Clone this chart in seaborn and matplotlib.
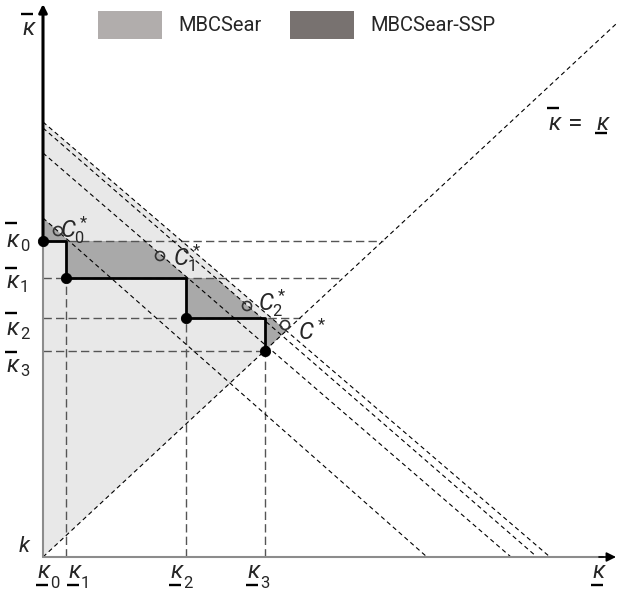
import matplotlib.pyplot as plt
import seaborn as sns
from matplotlib.patches import Patch, Polygon

sns.set_theme(style='white')
plt.rcParams['font.family'] = ['Roboto', 'DejaVu Sans']
plt.rcParams['mathtext.fontset'] = 'custom'
plt.rcParams['mathtext.rm'] = 'Roboto'
plt.rcParams['mathtext.it'] = 'Roboto:italic'
plt.rcParams['mathtext.bf'] = 'Roboto:bold'

# staircase corners: lower bounds (x) and upper bounds (y)
kappa_low = [0, 23, 143, 222]
kappa_high = [316, 279, 239, 206]
# budget lines, outer -> inner: x- and y-intercepts
budget_x = [507, 494, 468, 384]
budget_y = [435, 429, 404, 339]
# the kappa_bar = kappa_low line
diag_x = [0, 573]
diag_y = [0, 533]
# optimum points
opt_names = [r'$C_0^*$', r'$C_1^*$', r'$C_2^*$', r'$C^*$']
opt_x = [15, 117, 204, 242]
opt_y = [326, 301, 251, 232]

light = '#e8e8e8'
dark = '#a9a9a9'
guide = '#555555'


def x_on(i, y):
    return budget_x[i] * (1 - y / budget_y[i])


m = diag_y[1] / diag_x[1]
tip_x = budget_y[0] / (m + budget_y[0] / budget_x[0])
tip = (tip_x, m * tip_x)

lo, hi = kappa_low, kappa_high

fig = plt.figure(figsize=(6.18, 5.95), dpi=100)
ax = fig.add_axes([0, 0, 1, 1])
ax.set_xlim(-43, 575)
ax.set_ylim(-38, 557)
ax.axis('off')

# shaded regions
ax.add_patch(Polygon([(0, 0), (0, budget_y[0]), tip], closed=True,
                     facecolor=light, edgecolor='none', zorder=1))
dark_pts = [(0, budget_y[3]), (x_on(3, hi[0]), hi[0]),
            (x_on(2, hi[0]), hi[0]), (x_on(2, hi[1]), hi[1]),
            (x_on(1, hi[1]), hi[1]), (x_on(1, hi[2]), hi[2]),
            (x_on(0, hi[2]), hi[2]), tip,
            (lo[3], hi[3]), (lo[3], hi[2]), (lo[2], hi[2]), (lo[2], hi[1]),
            (lo[1], hi[1]), (lo[1], hi[0]), (0, hi[0])]
ax.add_patch(Polygon(dark_pts, closed=True, facecolor=dark,
                     edgecolor='none', zorder=2))

# guide lines
for i, h in enumerate(hi):
    end = h / m if i < 3 else lo[3]
    ax.plot([0, end], [h, h], color=guide, lw=1, ls=(0, (6, 3)), zorder=3)
for i in range(1, 4):
    ax.plot([lo[i], lo[i]], [0, hi[i]], color=guide, lw=1,
            ls=(0, (6, 3)), zorder=3)

# budget lines and diagonal
for a, b in zip(budget_x, budget_y):
    ax.plot([0, a], [b, 0], color='black', lw=0.8, ls=(0, (4, 3)), zorder=3)
ax.plot(diag_x, diag_y, color='black', lw=0.8, ls=(0, (4, 3)), zorder=3)

# axes
ax.plot([0, 0], [0, hi[0]], color='#8c8c8c', lw=1.5, zorder=4)
ax.plot([0, 560], [0, 0], color='#8c8c8c', lw=1.5, zorder=4)
ax.annotate('', xy=(573, 0), xytext=(556, 0),
            arrowprops=dict(arrowstyle='-|>', color='black', lw=1.2,
                            mutation_scale=14, shrinkA=0, shrinkB=0), zorder=5)
ax.annotate('', xy=(0, 553), xytext=(0, hi[0]),
            arrowprops=dict(arrowstyle='-|>', color='black', lw=2.2,
                            mutation_scale=12, shrinkA=0, shrinkB=0), zorder=5)

# staircase
step_x = [lo[0], lo[1], lo[1], lo[2], lo[2], lo[3], lo[3]]
step_y = [hi[0], hi[0], hi[1], hi[1], hi[2], hi[2], hi[3]]
ax.plot(step_x, step_y, color='black', lw=2, zorder=6)
sns.scatterplot(x=lo, y=hi, color='black', s=55, edgecolor='black',
                zorder=7, ax=ax)
sns.scatterplot(x=opt_x, y=opt_y, s=42, facecolor='none',
                edgecolor='#333333', linewidth=1.2, zorder=7, ax=ax)

# optimum labels (left edge, baseline)
c_lab_x = [17, 130, 215, 255]
c_lab_y = [320, 292, 247, 217]
for n, x, y in zip(opt_names, c_lab_x, c_lab_y):
    ax.text(x, y, n, fontsize=17, ha='left', va='baseline', zorder=8)


def kappa(x, base, bar, sub='', sub_dx=13, sub_dy=2, size=17):
    ax.text(x, base, r'$\mathit{\kappa}$', fontsize=size, ha='left',
            va='baseline')
    if sub:
        ax.text(x + sub_dx, base - sub_dy, sub, fontsize=12, ha='left',
                va='baseline')
    ax.plot([x - 1, x + 11], [bar, bar], color='black', lw=1.7,
            solid_capstyle='butt')


# upper bounds on the vertical axis
hi_lab_base = [310, 269, 222, 185]
hi_lab_bar = [334, 289, 244, 205]
for i, (b, r) in enumerate(zip(hi_lab_base, hi_lab_bar)):
    kappa(-37, b, r, str(i), sub_dx=14, sub_dy=4)

# lower bounds on the horizontal axis
for i, x in enumerate([-6, 25, 127, 204]):
    kappa(x, -21, -28, str(i), sub_dx=13, sub_dy=10)
kappa(549, -21, -28)

kappa(-21, 522, 543)
ax.text(-18, 5, r'$k$', fontsize=16, ha='center', va='baseline')

# kappa_bar = kappa_low
kappa(505, 427, 449)
ax.text(532, 433.5, '=', fontsize=19, ha='center', va='center')
kappa(553, 427, 424)

handles = [Patch(facecolor='#b1adac', edgecolor='none', label='MBCSear'),
           Patch(facecolor='#787270', edgecolor='none', label='MBCSear-SSP')]
fig.legend(handles=handles, loc='upper left', bbox_to_anchor=(98 / 618, 1 - 11 / 595),
           ncol=2, frameon=False, fontsize=14.5, handlelength=3.2,
           handleheight=1.75, handletextpad=0.8, columnspacing=1.4,
           borderpad=0, borderaxespad=0)

fig.savefig('out.png', dpi=100)
